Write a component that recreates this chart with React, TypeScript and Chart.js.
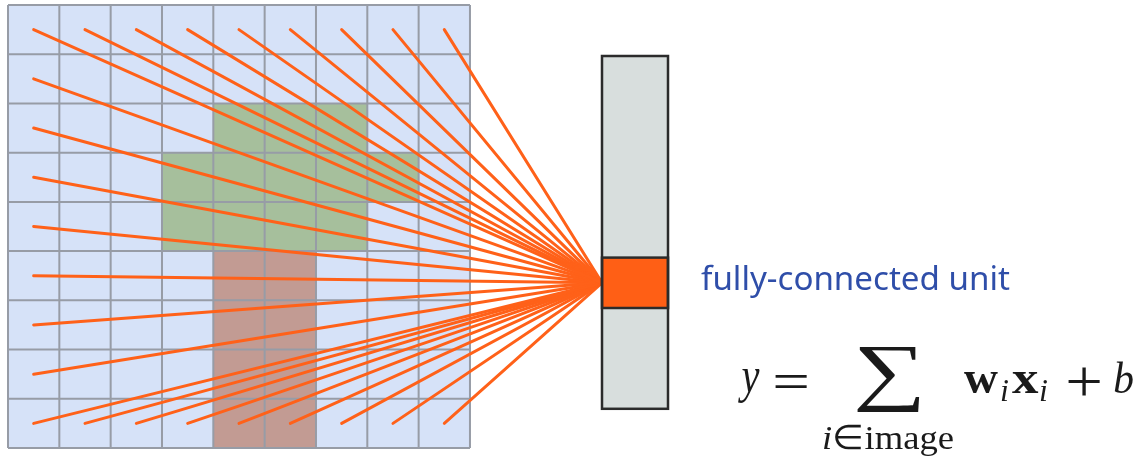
import React, { useEffect, useRef } from "react";
import { Chart, registerables } from "chart.js";

Chart.register(...registerables);

// ---------------- data ----------------
const GRID_ROWS = 9;
const GRID_COLS = 9;
// highlighted input cells (row, col)
const GREEN_CELLS_ROW = [2, 2, 2, 3, 3, 3, 3, 3, 4, 4, 4, 4];
const GREEN_CELLS_COL = [4, 5, 6, 3, 4, 5, 6, 7, 3, 4, 5, 6];
const RED_CELLS_ROW = [5, 5, 6, 6, 7, 7, 8, 8];
const RED_CELLS_COL = [4, 5, 4, 5, 4, 5, 4, 5];
// output layer
const LAYER_UNITS = 7;
const ACTIVE_UNIT = 4;
// texts
const UNIT_LABEL = "fully-connected unit";
const SUM_INDEX = "i";
const SUM_SET = "image";

// ---------------- layout / style ----------------
const W = 1140;
const H = 462;
const GRID_X0 = 8;
const GRID_Y0 = 5;
const CELL_W = 51.33;
const CELL_H = 49.22;
const LAYER_X0 = 602;
const LAYER_W = 66;
const LAYER_Y0 = 56;
const LAYER_CELL_H = 50.4;

const C_BG = "#d6e2f8";
const C_GREEN = "#a6bf9c";
const C_RED = "#c29b93";
const C_GRID = "#979ca6";
const C_ORANGE = "#ff6119";
const C_LAYER = "#d8dedd";
const C_LABEL = "#2f4ea9";
const C_MATH = "#1a1a1a";
const SERIF = '"Liberation Serif"';

// source cells: top row, left column, bottom row
function sourceCells(): [number, number][] {
  const out: [number, number][] = [];
  for (let c = 0; c < GRID_COLS; c++) out.push([0, c]);
  for (let r = 1; r < GRID_ROWS - 1; r++) out.push([r, 0]);
  for (let c = 0; c < GRID_COLS; c++) out.push([GRID_ROWS - 1, c]);
  return out;
}

const TARGET_X = LAYER_X0;
const TARGET_Y = LAYER_Y0 + (ACTIVE_UNIT + 0.5) * LAYER_CELL_H;

// draw text so that its ink fills a box
function drawFit(ctx: CanvasRenderingContext2D, text: string, font: string, x0: number, y0: number, x1: number, y1: number) {
  ctx.font = font;
  const m = ctx.measureText(text);
  const iw = m.actualBoundingBoxLeft + m.actualBoundingBoxRight;
  const ih = m.actualBoundingBoxAscent + m.actualBoundingBoxDescent;
  ctx.save();
  ctx.translate(x0, y0);
  ctx.scale((x1 - x0) / iw, (y1 - y0) / ih);
  ctx.fillText(text, m.actualBoundingBoxLeft, m.actualBoundingBoxAscent);
  ctx.restore();
}
// draw text with its ink starting at inkLeft, on the baseline
function drawAt(ctx: CanvasRenderingContext2D, text: string, font: string, inkLeft: number, baseline: number) {
  ctx.font = font;
  const m = ctx.measureText(text);
  ctx.fillText(text, inkLeft + m.actualBoundingBoxLeft, baseline);
}

const diagramPlugin = {
  id: "diagram",
  beforeDatasetsDraw(chart: any) {
    const { ctx, scales } = chart;
    const px = (v: number) => scales.x.getPixelForValue(v);
    const py = (v: number) => scales.y.getPixelForValue(v);
    const cell = (r: number, c: number, color: string) => {
      const x0 = px(GRID_X0 + c * CELL_W);
      const x1 = px(GRID_X0 + (c + 1) * CELL_W);
      const y0 = py(GRID_Y0 + r * CELL_H);
      const y1 = py(GRID_Y0 + (r + 1) * CELL_H);
      ctx.fillStyle = color;
      ctx.fillRect(x0, y0, x1 - x0, y1 - y0);
    };
    ctx.save();
    const gx0 = px(GRID_X0), gx1 = px(GRID_X0 + GRID_COLS * CELL_W);
    const gy0 = py(GRID_Y0), gy1 = py(GRID_Y0 + GRID_ROWS * CELL_H);
    ctx.fillStyle = C_BG;
    ctx.fillRect(gx0, gy0, gx1 - gx0, gy1 - gy0);
    GREEN_CELLS_ROW.forEach((r, i) => cell(r, GREEN_CELLS_COL[i], C_GREEN));
    RED_CELLS_ROW.forEach((r, i) => cell(r, RED_CELLS_COL[i], C_RED));
    ctx.strokeStyle = C_GRID;
    ctx.lineWidth = 2;
    ctx.beginPath();
    for (let c = 0; c <= GRID_COLS; c++) {
      const x = px(GRID_X0 + c * CELL_W);
      ctx.moveTo(x, gy0);
      ctx.lineTo(x, gy1);
    }
    for (let r = 0; r <= GRID_ROWS; r++) {
      const y = py(GRID_Y0 + r * CELL_H);
      ctx.moveTo(gx0, y);
      ctx.lineTo(gx1, y);
    }
    ctx.stroke();
    ctx.restore();
  },
  afterDatasetsDraw(chart: any) {
    const { ctx, scales } = chart;
    const px = (v: number) => scales.x.getPixelForValue(v);
    const py = (v: number) => scales.y.getPixelForValue(v);
    ctx.save();
    // layer column
    const lx0 = px(LAYER_X0), lx1 = px(LAYER_X0 + LAYER_W);
    const ly0 = py(LAYER_Y0), ly1 = py(LAYER_Y0 + LAYER_UNITS * LAYER_CELL_H);
    ctx.fillStyle = C_LAYER;
    ctx.fillRect(lx0, ly0, lx1 - lx0, ly1 - ly0);
    const ay0 = py(LAYER_Y0 + ACTIVE_UNIT * LAYER_CELL_H);
    const ay1 = py(LAYER_Y0 + (ACTIVE_UNIT + 1) * LAYER_CELL_H);
    ctx.fillStyle = "#ff5f15";
    ctx.fillRect(lx0, ay0, lx1 - lx0, ay1 - ay0);
    ctx.strokeStyle = "#2b2b2b";
    ctx.lineWidth = 2.5;
    ctx.strokeRect(lx0, ly0, lx1 - lx0, ly1 - ly0);
    ctx.strokeRect(lx0, ay0, lx1 - lx0, ay1 - ay0);

    ctx.textBaseline = "alphabetic";
    ctx.textAlign = "left";

    // label
    ctx.fillStyle = C_LABEL;
    ctx.font = '24px "Noto Sans"';
    const m = ctx.measureText(UNIT_LABEL).width;
    const fs = (24 * 309) / m;
    ctx.font = `${fs.toFixed(2)}px "Noto Sans"`;
    ctx.fillText(UNIT_LABEL, px(701), py(290));

    // formula
    ctx.fillStyle = C_MATH;
    const base = py(393);
    drawFit(ctx, "y", `italic 46px ${SERIF}`, px(738), py(369), px(760), py(403));
    drawFit(ctx, "=", `48px ${SERIF}`, px(775), py(375), px(807), py(388));
    drawFit(ctx, "\u2211", `80px ${SERIF}`, px(857), py(347), px(920), py(413));
    drawAt(ctx, "w", `bold 47px ${SERIF}`, px(964), base);
    drawAt(ctx, SUM_INDEX, `italic 32px ${SERIF}`, px(1001), py(401));
    drawFit(ctx, "x", `bold 47px ${SERIF}`, px(1012), py(372), px(1039), base);
    drawAt(ctx, SUM_INDEX, `italic 32px ${SERIF}`, px(1040), py(401));
    drawFit(ctx, "+", `48px ${SERIF}`, px(1068), py(367), px(1100), py(395));
    drawFit(ctx, "b", `italic 48px ${SERIF}`, px(1114), py(360), px(1133), base);

    // limits under the sum: i ∈ image, fitted horizontally
    const subBase = py(449);
    const fsub = 34;
    ctx.font = `italic ${fsub}px ${SERIF}`;
    const wI = ctx.measureText(SUM_INDEX).width;
    ctx.font = `${fsub}px ${SERIF}`;
    const wIn = ctx.measureText("\u2208").width;
    const wSet = ctx.measureText(SUM_SET).width;
    const total = wI + wIn + wSet;
    const targetW = px(954) - px(822);
    ctx.save();
    ctx.translate(px(822), subBase);
    ctx.scale(targetW / total, 1);
    let sx = 0;
    ctx.font = `italic ${fsub}px ${SERIF}`;
    ctx.fillText(SUM_INDEX, sx, 0);
    sx += wI;
    ctx.font = `${fsub}px ${SERIF}`;
    ctx.fillText("\u2208", sx, 0);
    sx += wIn;
    ctx.fillText(SUM_SET, sx, 0);
    ctx.restore();
    ctx.restore();
  },
};

export default function App() {
  const ref = useRef<HTMLCanvasElement | null>(null);
  useEffect(() => {
    if (!ref.current) return;
    const sources = sourceCells();
    const chart = new Chart(ref.current, {
      type: "scatter",
      data: {
        datasets: sources.map(([r, c]) => ({
          data: [
            { x: GRID_X0 + (c + 0.5) * CELL_W, y: GRID_Y0 + (r + 0.5) * CELL_H },
            { x: TARGET_X, y: TARGET_Y },
          ],
          showLine: true,
          borderColor: C_ORANGE,
          borderWidth: 3,
          pointRadius: 0,
          borderCapStyle: "round",
        })),
      },
      options: {
        animation: false,
        responsive: false,
        events: [],
        layout: { padding: 0 },
        plugins: { legend: { display: false }, tooltip: { enabled: false } },
        scales: {
          x: { type: "linear", min: 0, max: W, display: false },
          y: { type: "linear", min: 0, max: H, reverse: true, display: false },
        },
      },
      plugins: [diagramPlugin],
    } as any);
    return () => chart.destroy();
  }, []);
  return (
    <div style={{ position: "fixed", left: 0, top: 0, width: W, height: H, background: "#fff" }}>
      <canvas ref={ref} width={W} height={H} style={{ display: "block", width: W, height: H }} />
    </div>
  );
}
